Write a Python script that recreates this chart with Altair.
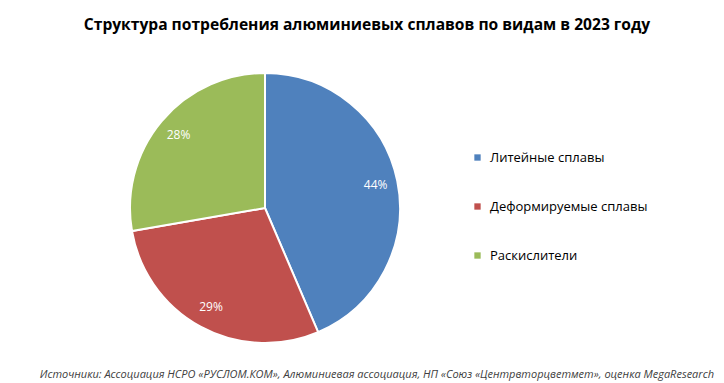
import altair as alt
import pandas as pd

categories = ["Литейные сплавы", "Деформируемые сплавы", "Раскислители"]
shares = [44, 29, 28]
colors = ["#4F81BD", "#C0504D", "#9BBB59"]
title_text = "Структура потребления алюминиевых сплавов по видам в 2023 году"
source_text = "Источники: Ассоциация НСРО «РУСЛОМ.КОМ», Алюминиевая ассоциация, НП «Союз «Центрвторцветмет», оценка MegaResearch"

df = pd.DataFrame({"cat": categories, "val": shares, "ord": list(range(len(categories)))})
df["label"] = df["val"].astype(str) + "%"

CX, CY, R = 257, 200, 135
FONT = "Open Sans"

base = alt.Chart(df).encode(
    theta=alt.Theta("val:Q", stack=True),
    order=alt.Order("ord:Q"),
)

arcs = base.mark_arc(outerRadius=R, stroke="white", strokeWidth=2).encode(
    x=alt.value(CX), y=alt.value(CY),
    color=alt.Color("cat:N", scale=alt.Scale(domain=categories, range=colors),
                    sort=categories,
                    legend=alt.Legend(title=None, orient="none", legendX=463, legendY=143,
                                      symbolType="square", symbolSize=40, symbolStrokeWidth=0,
                                      labelFont=FONT, labelFontSize=13, labelColor="#000000",
                                      rowPadding=35, labelOffset=6)),
)

labels = base.mark_text(radius=113, color="white", font=FONT, fontSize=12, fontWeight="normal").encode(
    x=alt.value(CX), y=alt.value(CY), text="label:N"
)

title = alt.Chart(pd.DataFrame({"t": [title_text]})).mark_text(
    font=FONT, fontSize=15.6, fontWeight="bold", color="#000000", align="center", baseline="middle"
).encode(x=alt.value(359), y=alt.value(17), text="t:N")

source = alt.Chart(pd.DataFrame({"t": [source_text]})).mark_text(
    font=FONT, fontSize=11, fontStyle="italic", color="#404040", align="right", baseline="middle"
).encode(x=alt.value(706), y=alt.value(367), text="t:N")

chart = alt.layer(arcs, labels, title, source).properties(
    width=708, height=375, autosize="none", padding=0
).configure_view(stroke=None)

chart.save("out.html", embed_options={"renderer": "svg", "actions": False})
